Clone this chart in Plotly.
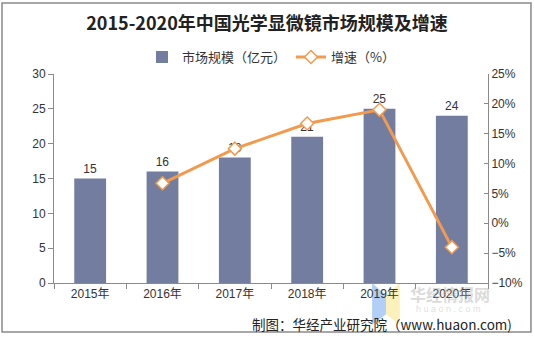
import plotly.graph_objects as go

years = ["2015年", "2016年", "2017年", "2018年", "2019年", "2020年"]
market_size = [15, 16, 18, 21, 25, 24]          # 市场规模（亿元）
growth_years = ["2016年", "2017年", "2018年", "2019年", "2020年"]
growth_rate = [6.7, 12.5, 16.7, 19.0, -4.0]      # 增速（%）

BAR_COLOR = "#737DA0"
LINE_COLOR = "#F29A4E"
TEXT_COLOR = "#333333"
FONT = "Liberation Sans, Noto Sans CJK SC, sans-serif"

fig = go.Figure()

fig.add_trace(go.Bar(
    x=years, y=market_size, name="市场规模（亿元）",
    marker=dict(color=BAR_COLOR, line=dict(width=0)),
    text=[str(v) for v in market_size], textposition="outside",
    textfont=dict(size=12, color=TEXT_COLOR, family=FONT),
    cliponaxis=False,
))

fig.add_trace(go.Scatter(
    x=growth_years, y=growth_rate, name="增速（%）", yaxis="y2",
    mode="lines+markers",
    line=dict(color=LINE_COLOR, width=3),
    marker=dict(symbol="diamond", size=10, color="white",
                line=dict(color=LINE_COLOR, width=1.5)),
    cliponaxis=False,
))

# outer frame
fig.add_shape(type="rect", xref="paper", yref="paper",
              x0=-0.1198, x1=1.099, y0=-0.2344, y1=1.34,
              line=dict(color="#8a8a8a", width=1.5), layer="below")

# watermark logo and text
fig.add_shape(type="path", xref="paper", yref="paper",
              path="M 0.733 -0.0 L 0.765 -0.06 L 0.765 -0.15 L 0.733 -0.2 Z",
              fillcolor="rgba(100,160,240,0.5)", line=dict(width=0), layer="below")
fig.add_shape(type="path", xref="paper", yref="paper",
              path="M 0.765 -0.06 L 0.797 0.0 L 0.797 -0.2 L 0.765 -0.15 Z",
              fillcolor="rgba(250,225,120,0.5)", line=dict(width=0), layer="below")
fig.add_annotation(xref="paper", yref="paper", x=0.815, y=-0.055,
                   xanchor="left", yanchor="middle", showarrow=False,
                   text="<b>华经情报网</b>",
                   font=dict(size=16, color="rgba(160,160,160,0.4)",
                             family="Noto Sans CJK SC"))
fig.add_annotation(xref="paper", yref="paper", x=0.83, y=-0.125,
                   xanchor="left", yanchor="middle", showarrow=False,
                   text="h u a o n . c o m",
                   font=dict(size=9, color="rgba(170,170,170,0.4)", family=FONT))

# source note
fig.add_annotation(xref="paper", yref="paper", x=1.06, y=-0.195,
                   xanchor="right", yanchor="middle", showarrow=False,
                   text="制图：华经产业研究院（www.huaon.com)",
                   font=dict(size=13.5, color="#222222",
                             family="Noto Sans CJK SC, Liberation Sans"))

fig.update_layout(
    width=534, height=337,
    margin=dict(l=54, r=46, t=74, b=54),
    paper_bgcolor="white", plot_bgcolor="white",
    font=dict(family=FONT, size=12, color=TEXT_COLOR),
    title=dict(text="<b>2015-2020年中国光学显微镜市场规模及增速</b>",
               x=0.5, xanchor="center", y=0.929, yanchor="middle",
               font=dict(size=18, color="#222222", family="Noto Sans CJK SC")),
    bargap=0.56,
    showlegend=True,
    legend=dict(orientation="h", x=0.5, xanchor="center", y=1.081,
                yanchor="middle", font=dict(size=13, color=TEXT_COLOR,
                                             family="Noto Sans CJK SC"),
                itemwidth=30, tracegroupgap=0, bgcolor="rgba(0,0,0,0)"),
    xaxis=dict(type="category", categoryorder="array", categoryarray=years,
               showline=True, linecolor="#8a8a8a", linewidth=1,
               ticks="outside", tickson="boundaries", ticklen=5,
               tickcolor="#8a8a8a", showgrid=False,
               tickfont=dict(size=12, color=TEXT_COLOR, family=FONT)),
    yaxis=dict(range=[0, 30], dtick=5, showline=True, linecolor="#8a8a8a",
               ticks="outside", ticklen=5, tickcolor="#8a8a8a",
               showgrid=False, zeroline=False,
               tickfont=dict(size=12, color=TEXT_COLOR, family=FONT)),
    yaxis2=dict(range=[-10, 25], dtick=5, overlaying="y", side="right",
                ticksuffix="%", showline=True, linecolor="#8a8a8a",
                ticks="inside", ticklen=4, tickcolor="#8a8a8a",
                showgrid=False, zeroline=False,
                tickfont=dict(size=12, color=TEXT_COLOR, family=FONT)),
)

fig.write_html("out.html")
